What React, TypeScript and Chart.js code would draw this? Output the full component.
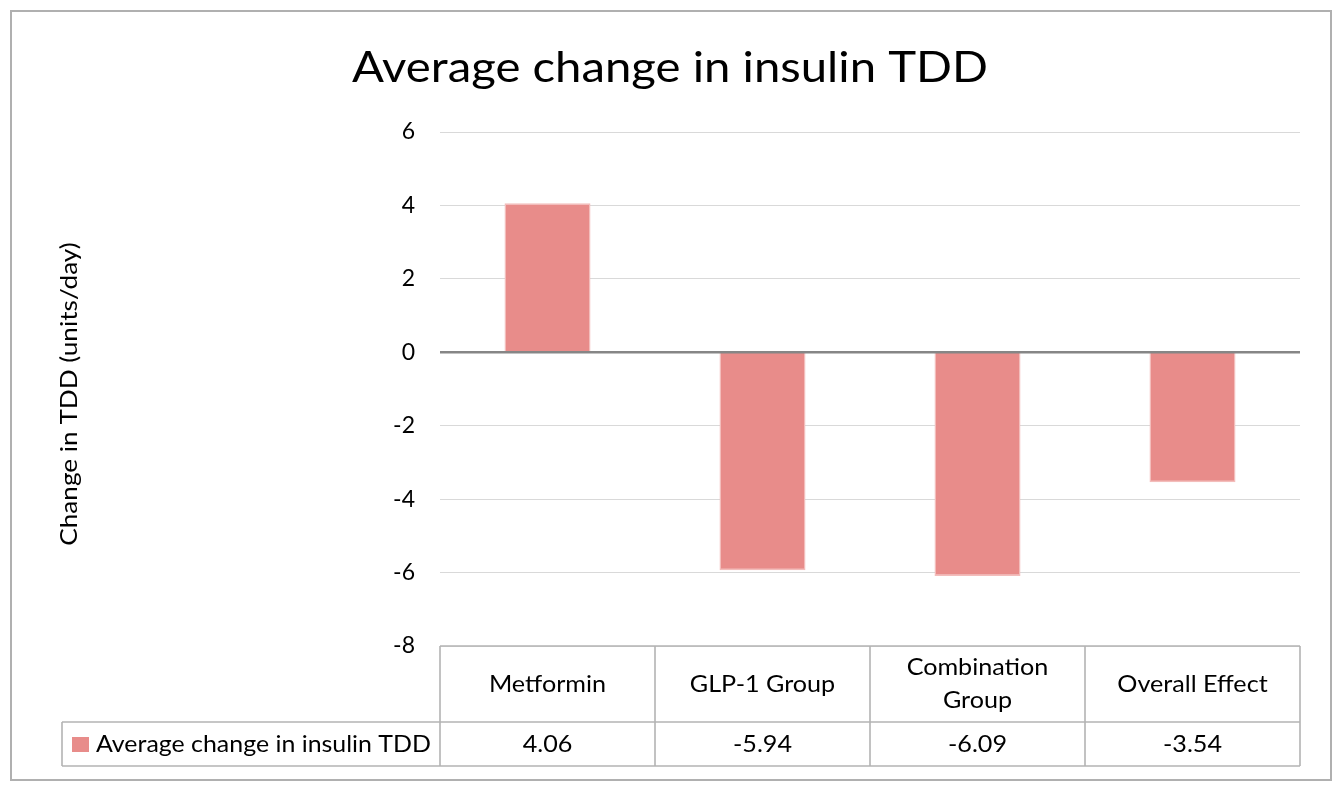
import React, { useEffect, useRef } from 'react';
import { Chart, registerables } from 'chart.js';

Chart.register(...registerables);

const chartTitle = 'Average change in insulin TDD';
const yAxisTitle = 'Change in TDD (units/day)';
const seriesName = 'Average change in insulin TDD';
const categories: string[][] = [['Metformin'], ['GLP-1 Group'], ['Combination', 'Group'], ['Overall Effect']];
const values = [4.06, -5.94, -6.09, -3.54];
const valueLabels = ['4.06', '-5.94', '-6.09', '-3.54'];
const yMin = -8;
const yMax = 6;
const yStep = 2;

const FONT = 'Lato, "Open Sans", sans-serif';
const BAR_COLOR = '#E88C8A';
const TABLE_LINE = '#B3B3B3';

function stretchText(ctx: CanvasRenderingContext2D, text: string, x: number, y: number, sx: number) {
  ctx.save();
  ctx.translate(x, y);
  ctx.scale(sx, 1);
  ctx.fillText(text, 0, 0);
  ctx.restore();
}

const excelPlugin = {
  id: 'excelTable',
  afterDatasetsDraw(chart: any) {
    const { ctx, chartArea: ca, scales } = chart;
    const y = scales.y;
    const y0 = y.getPixelForValue(0);
    ctx.save();
    // zero axis line
    ctx.strokeStyle = '#868686';
    ctx.lineWidth = 2.5;
    ctx.beginPath();
    ctx.moveTo(ca.left, y0);
    ctx.lineTo(ca.right, y0);
    ctx.stroke();

    // data table
    const n = categories.length;
    const cw = (ca.right - ca.left) / n;
    const top = ca.bottom;
    const headerH = 76;
    const rowH = 44;
    const legendLeft = 62;
    ctx.strokeStyle = TABLE_LINE;
    ctx.lineWidth = 1.6;
    const hline = (x1: number, x2: number, yy: number) => {
      ctx.beginPath();
      ctx.moveTo(x1, yy);
      ctx.lineTo(x2, yy);
      ctx.stroke();
    };
    const vline = (xx: number, y1: number, y2: number) => {
      ctx.beginPath();
      ctx.moveTo(xx, y1);
      ctx.lineTo(xx, y2);
      ctx.stroke();
    };
    hline(ca.left, ca.right, top);
    hline(legendLeft, ca.right, top + headerH);
    hline(legendLeft, ca.right, top + headerH + rowH);
    for (let i = 0; i <= n; i++) {
      vline(ca.left + i * cw, top, top + headerH + rowH);
    }
    vline(legendLeft, top + headerH, top + headerH + rowH);

    ctx.fillStyle = '#000';
    ctx.font = `23.5px ${FONT}`;
    ctx.textAlign = 'center';
    ctx.textBaseline = 'middle';
    const lh = 33;
    categories.forEach((lines, i) => {
      const cx = ca.left + (i + 0.5) * cw;
      const cy = top + headerH / 2;
      const start = cy - ((lines.length - 1) * lh) / 2;
      lines.forEach((t, j) => stretchText(ctx, t, cx, start + j * lh, 1.07));
      stretchText(ctx, valueLabels[i], cx, top + headerH + rowH / 2, 1.07);
    });

    // legend cell
    ctx.fillStyle = BAR_COLOR;
    ctx.fillRect(72, top + headerH + 15, 17, 15);
    ctx.fillStyle = '#000';
    ctx.textAlign = 'left';
    stretchText(ctx, seriesName, 96, top + headerH + rowH / 2, 1.06);
    ctx.restore();
  },
  afterDraw(chart: any) {
    const { ctx, chartArea: ca } = chart;
    ctx.save();
    // outer border
    ctx.strokeStyle = '#B0B0B0';
    ctx.lineWidth = 2;
    ctx.strokeRect(11, 11, 1320, 769);
    // title
    ctx.fillStyle = '#000';
    ctx.font = `43px ${FONT}`;
    ctx.textAlign = 'center';
    ctx.textBaseline = 'alphabetic';
    stretchText(ctx, chartTitle, 670, 82, 1.1);
    // y axis title
    ctx.font = `24px ${FONT}`;
    ctx.translate(69, (ca.top + ca.bottom) / 2 + 5);
    ctx.rotate(-Math.PI / 2);
    ctx.textBaseline = 'middle';
    stretchText(ctx, yAxisTitle, 0, 0, 1.09);
    ctx.restore();
  },
};

export default function App() {
  const ref = useRef<HTMLCanvasElement | null>(null);
  useEffect(() => {
    if (!ref.current) return;
    const chart = new Chart(ref.current, {
      type: 'bar',
      data: {
        labels: categories.map((c) => c.join(' ')),
        datasets: [
          {
            label: seriesName,
            data: values,
            backgroundColor: BAR_COLOR,
            borderColor: '#F3BDBB',
            borderWidth: 1.5,
            categoryPercentage: 1,
            barPercentage: 0.4,
          },
        ],
      },
      options: {
        animation: false,
        responsive: false,
        devicePixelRatio: 1,
        layout: { padding: { left: 0, top: 132, right: 38, bottom: 140 } },
        plugins: {
          legend: { display: false },
          title: { display: false },
          tooltip: { enabled: false },
        },
        scales: {
          x: { display: false },
          y: {
            min: yMin,
            max: yMax,
            afterFit: (s: any) => {
              s.width = 440;
            },
            border: { display: false },
            grid: { color: '#D9D9D9', lineWidth: 1, drawTicks: false },
            ticks: {
              stepSize: yStep,
              padding: 25,
              color: '#000',
              font: { family: FONT, size: 23 },
            },
          },
        },
      },
      plugins: [excelPlugin],
    });
    return () => chart.destroy();
  }, []);
  return (
    <div style={{ position: 'fixed', left: 0, top: 0, width: 1338, height: 786, background: '#fff' }}>
      <canvas ref={ref} width={1338} height={786} />
    </div>
  );
}
